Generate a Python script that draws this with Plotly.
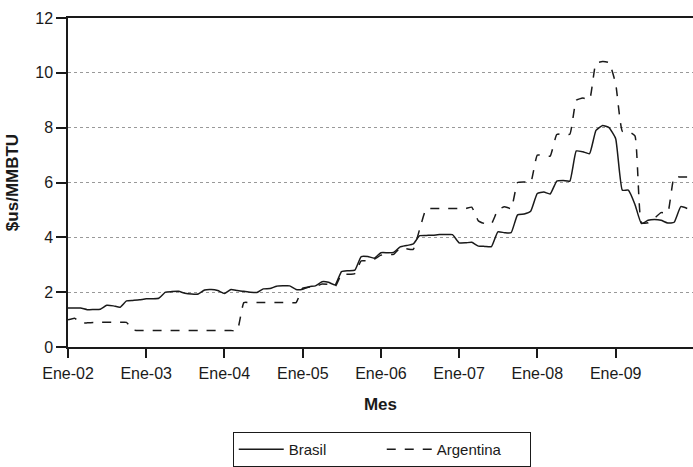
import pandas as pd
import plotly.graph_objects as go

months = pd.date_range("2002-01-01", periods=96, freq="MS")

brasil = [1.42, 1.42, 1.42, 1.36, 1.37, 1.38, 1.52, 1.50, 1.45, 1.68, 1.70, 1.72,
          1.76, 1.76, 1.78, 2.00, 2.02, 2.03, 1.96, 1.93, 1.93, 2.08, 2.10, 2.06,
          1.95, 2.10, 2.06, 2.03, 2.00, 1.99, 2.12, 2.13, 2.22, 2.23, 2.23, 2.10,
          2.11, 2.20, 2.23, 2.38, 2.36, 2.26, 2.75, 2.78, 2.80, 3.30, 3.30, 3.24,
          3.44, 3.44, 3.45, 3.65, 3.70, 3.76, 4.06, 4.07, 4.08, 4.10, 4.10, 4.10,
          3.80, 3.80, 3.82, 3.68, 3.67, 3.66, 4.20, 4.17, 4.17, 4.82, 4.85, 4.95,
          5.60, 5.65, 5.58, 6.05, 6.07, 6.05, 7.15, 7.12, 7.05, 7.90, 8.08, 8.00,
          7.60, 5.72, 5.72, 5.20, 4.50, 4.62, 4.65, 4.62, 4.52, 4.55, 5.12, 5.05]

argentina = [0.99, 1.05, 0.88, 0.88, 0.89, 0.90, 0.90, 0.90, 0.90, 0.90, 0.62, 0.60,
             0.60, 0.60, 0.60, 0.60, 0.60, 0.60, 0.60, 0.60, 0.60, 0.60, 0.60, 0.60,
             0.60, 0.60, 0.60, 1.62, 1.62, 1.62, 1.62, 1.62, 1.62, 1.62, 1.62, 1.62,
             2.15, 2.18, 2.20, 2.30, 2.28, 2.20, 2.65, 2.65, 2.68, 3.14, 3.14, 3.20,
             3.35, 3.38, 3.38, 3.62, 3.58, 3.56, 4.30, 5.05, 5.05, 5.05, 5.05, 5.05,
             5.05, 5.05, 5.10, 4.60, 4.50, 4.50, 5.00, 5.12, 5.05, 6.00, 6.02, 6.00,
             7.00, 6.98, 6.96, 7.75, 7.78, 7.76, 9.00, 9.08, 9.03, 10.35, 10.41, 10.37,
             9.60, 7.87, 7.87, 7.70, 4.53, 4.53, 4.70, 4.90, 4.90, 6.20, 6.20, 6.20]

tick_vals = pd.date_range("2002-01-01", periods=8, freq="YS")
tick_text = ["Ene-02", "Ene-03", "Ene-04", "Ene-05", "Ene-06", "Ene-07", "Ene-08", "Ene-09"]
y_ticks = [0, 2, 4, 6, 8, 10, 12]

FONT = "Liberation Sans Narrow, Arial Narrow, Liberation Sans, Arial, sans-serif"
INK = "#1a1a1a"

fig = go.Figure()
fig.add_trace(go.Scatter(x=months, y=brasil, mode="lines", name="Brasil",
                         line=dict(color=INK, width=1.5, shape="spline", smoothing=0.4)))
fig.add_trace(go.Scatter(x=months, y=argentina, mode="lines", name="Argentina",
                         line=dict(color=INK, width=1.5, dash="dash", shape="spline", smoothing=0.4)))

fig.update_layout(
    width=693, height=467,
    margin=dict(l=68, r=0, t=18, b=119),
    plot_bgcolor="white", paper_bgcolor="white",
    font=dict(family=FONT, size=16, color=INK),
    xaxis=dict(
        range=[pd.Timestamp("2002-01-01"), pd.Timestamp("2009-12-28")],
        tickvals=tick_vals, ticktext=tick_text, automargin=False,
        showline=True, linecolor=INK, linewidth=1.5, mirror=True,
        ticks="outside", ticklen=9, tickcolor=INK, tickwidth=1.5,
        ticklabelstandoff=2,
        showgrid=False, zeroline=False,
        title=dict(text="<b>Mes</b>", font=dict(size=17), standoff=17),
    ),
    yaxis=dict(
        range=[0, 12], tickvals=y_ticks, automargin=False,
        showline=True, linecolor=INK, linewidth=1.5,
        ticks="outside", ticklen=10, tickcolor=INK, tickwidth=1.5,
        showgrid=True, gridcolor="#999999", griddash="dot", gridwidth=1,
        zeroline=False,
        title=dict(text="<b>$us/MMBTU</b>", font=dict(size=17), standoff=12),
    ),
    legend=dict(
        orientation="h", x=0.502, xanchor="center", y=-0.26, yanchor="top",
        bordercolor=INK, borderwidth=1, bgcolor="white",
        font=dict(size=15), itemwidth=45, entrywidth=88,
    ),
)

fig.write_html("out.html", post_script="document.body.style.margin='0';",
               config={"displayModeBar": False})
